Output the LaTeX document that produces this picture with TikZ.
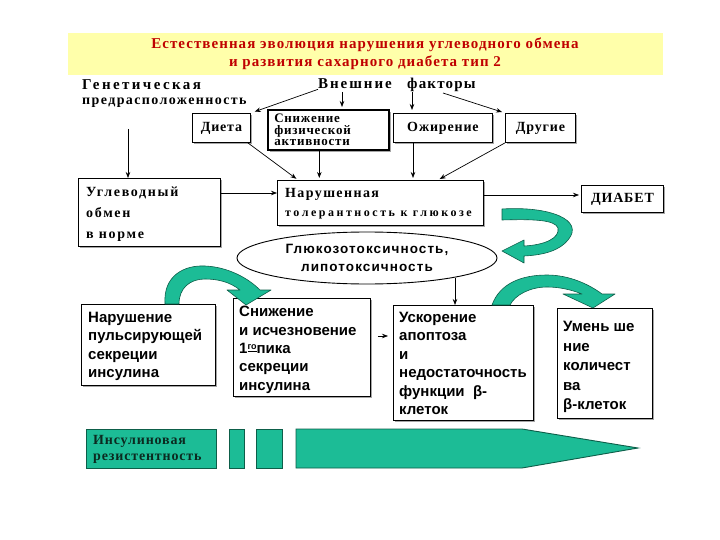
\documentclass[tikz,border=0pt]{standalone}
\usepackage{fontspec}
\setmainfont{Liberation Serif}
\setsansfont{Liberation Sans}
\usetikzlibrary{arrows.meta,shadows,shapes.geometric}
\definecolor{tgreen}{HTML}{1CBC96}
\definecolor{tgreendark}{HTML}{0D5E49}
\definecolor{tred}{HTML}{C00000}
\definecolor{tyellow}{HTML}{FFFFAA}
\definecolor{tinktext}{HTML}{0B2A20}
\begin{document}
\begin{tikzpicture}[x=1pt,y=-1pt,
  box/.style={draw=black, line width=0.9pt, fill=white, inner sep=0pt, anchor=north west},
  shbox/.style={box, drop shadow={shadow xshift=2pt, shadow yshift=-2pt, fill=black!35, opacity=1}},
  ttl/.style={font=\fontsize{15}{17}\selectfont\bfseries\addfontfeature{LetterSpace=7}, text=tred, inner sep=0pt},
  sr/.style={font=\fontsize{14}{16}\selectfont\bfseries\addfontfeature{LetterSpace=10}, inner sep=0pt},
  ss/.style={font=\sffamily\fontsize{15}{18.4}\selectfont\bfseries, inner sep=0pt, align=left, anchor=north west},
  arr/.style={-{Stealth[length=6pt,width=4.5pt]}, line width=0.7pt},
  garrow/.style={fill=tgreen, draw=tgreendark, line width=0.6pt, line join=round},
  gbar/.style={fill=tgreen, draw=tgreendark, line width=0.9pt, inner sep=0pt, anchor=north west}
]
\useasboundingbox (0,0) rectangle (720,540);
\fill[white] (0,0) rectangle (720,540);

% title band
\node[fill=tyellow, inner sep=0pt, anchor=north west, minimum width=595pt, minimum height=42pt] (band) at (68,33) {};
\node[ttl] (t1) at (365,45) {Естественная эволюция нарушения углеводного обмена};
\node[ttl] (t2) at (365,63) {и развития сахарного диабета тип 2};

% top texts
\node[sr, anchor=base west, font=\fontsize{15}{16}\selectfont\bfseries\addfontfeature{LetterSpace=16}] (gen1) at (82,90) {Генетическая};
\node[sr, anchor=base west] (gen2) at (82,105) {предрасположенность};
\node[sr, anchor=base west, font=\fontsize{15}{16}\selectfont\bfseries\addfontfeature{LetterSpace=13}] (vn) at (318,89) {Внешние};
\node[sr, anchor=base west, font=\fontsize{15}{16}\selectfont\bfseries\addfontfeature{LetterSpace=8}] (fa) at (407,89) {факторы};

% top boxes
\node[shbox, minimum width=58pt, minimum height=29pt, font=\fontsize{14}{16}\selectfont\bfseries\addfontfeature{LetterSpace=6}] (dieta) at (192,113) {Диета};
\node[shbox, line width=1.6pt, minimum width=121pt, minimum height=40pt, text width=108pt, align=left,
      font=\fontsize{13}{11.5}\selectfont\bfseries\addfontfeature{LetterSpace=6}] (snizh) at (267,109) {Снижение\\физической\\активности};
\node[shbox, minimum width=99pt, minimum height=29pt, font=\fontsize{14}{16}\selectfont\bfseries\addfontfeature{LetterSpace=6}] (ozh) at (393,113) {Ожирение};
\node[shbox, minimum width=70pt, minimum height=29pt, font=\fontsize{14}{16}\selectfont\bfseries\addfontfeature{LetterSpace=6}] (drug) at (505,113) {Другие};

% middle boxes
\node[shbox, minimum width=142pt, minimum height=68pt] (ugl) at (78,178) {};
\node[sr, font=\fontsize{14}{21}\selectfont\bfseries\addfontfeature{LetterSpace=12}, align=left, anchor=north west] (uglt) at (86,187) {Углеводный\\обмен\\в норме};
\node[shbox, minimum width=206pt, minimum height=45pt] (nar) at (277,180) {};
\node[sr, anchor=base west] (nar1) at (285,197) {Нарушенная};
\node[sr, anchor=base west, font=\fontsize{12}{14}\selectfont\bfseries\addfontfeature{LetterSpace=21}] (nar2) at (285,217) {толерантность к глюкозе};
\node[shbox, minimum width=82pt, minimum height=27pt, font=\fontsize{14}{16}\selectfont\bfseries\addfontfeature{LetterSpace=6}] (diab) at (581,185) {ДИАБЕТ};

% ellipse
\node[ellipse, draw=black, line width=0.9pt, fill=white, minimum width=260pt, minimum height=52pt, inner sep=0pt, align=center,
      font=\sffamily\fontsize{13.5}{18}\selectfont\bfseries\addfontfeature{LetterSpace=8}] (ell) at (367,258) {Глюкозотоксичность,\\липотоксичность};

% bottom boxes
\node[shbox, minimum width=134pt, minimum height=81pt] (b1) at (81,304) {};
\node[ss] (b1t) at (88,312) {Нарушение\\пульсирующей\\секреции\\инсулина};
\node[shbox, minimum width=137pt, minimum height=98pt] (b2) at (233,298) {};
\node[ss] (b2t) at (239,306) {Снижение\\и исчезновение\\1\raisebox{4pt}{\fontsize{9}{9}\selectfont\underline{го}}пика\\секреции\\инсулина};
\node[shbox, minimum width=140pt, minimum height=115pt] (b3) at (393,305) {};
\node[ss] (b3t) at (399,312) {Ускорение\\апоптоза\\и\\недостаточность\\функции\ \ β-\\клеток};
\node[shbox, minimum width=95pt, minimum height=110pt] (b4) at (557,308) {};
\node[ss, font=\sffamily\fontsize{15}{19.5}\selectfont\bfseries] (b4t) at (563,321) {Умень ше\\ние\\количест\\ва\\β-клеток};

% connectors top
\coordinate (a1) at (342,92);
\coordinate (a2) at (412,92);
\coordinate (a3) at (443,93);
\coordinate (g1) at (128,129);
\draw[arr, shorten >=4pt] (vn.south west) -- (dieta.north east);
\draw[arr, shorten >=2pt] (a1) -- (a1 |- snizh.north);
\draw[arr, shorten >=3pt] (a2) -- (a2 |- ozh.north);
\draw[arr, shorten >=3pt] (a3) -- (drug.north west);
\draw[arr] (g1) -- (g1 |- ugl.north);
\draw[arr, shorten >=2pt] ([xshift=-3pt]dieta.south east) -- ([xshift=21pt]nar.north west);
\draw[arr, shorten >=2pt] ([xshift=-9pt]snizh.south) -- ([xshift=-9pt]snizh.south |- nar.north);
\draw[arr, shorten >=2pt] ([xshift=20pt]ozh.south west) -- ([xshift=20pt]ozh.south west |- nar.north);
\draw[arr, shorten >=2pt] (drug.south west) -- ([xshift=-46pt]nar.north east);
\draw[arr] (ugl.east |- 0,193) -- (nar.west |- 0,193);
\draw[arr, shorten >=2pt] (nar.east |- 0,195) -- (diab.west |- 0,195);
\coordinate (e1) at (455,278);
\draw[arr] (e1) -- (e1 |- b3.north);
\draw[arr, shorten <=7pt, shorten >=5pt] (b2.east |- 0,336) -- (b3.west |- 0,336);

% green curved arrows
\draw[garrow] (502,209) .. controls (550,206) and (585,220) .. (568,240)
  .. controls (560,250) and (545,255) .. (524,256) -- (524,263) -- (502,251) -- (524,240) -- (524,246)
  .. controls (545,245) and (560,238) .. (558,228) .. controls (555,220) and (535,219) .. (502,220) -- cycle;
\draw[garrow] (165,304) .. controls (163,275) and (185,265) .. (205,266)
  .. controls (228,267) and (248,278) .. (260,290) -- (271,290) -- (246,305) -- (227,290) -- (240,290)
  .. controls (230,282) and (218,279) .. (205,279) .. controls (190,279) and (179,288) .. (179,304) -- cycle;
\draw[garrow] (492,305) .. controls (500,283) and (522,275) .. (547,275)
  .. controls (570,275) and (590,285) .. (602,294) -- (615,294) -- (593,308) -- (563,294) -- (582,294)
  .. controls (572,290) and (560,287) .. (547,287) .. controls (530,287) and (515,295) .. (510,305) -- cycle;

% bottom bar
\node[gbar, minimum width=130pt, minimum height=39pt] (ins) at (86,429) {};
\node[sr, align=left, anchor=north west, text=tinktext, font=\fontsize{14}{16}\selectfont\bfseries\addfontfeature{LetterSpace=6}] (inst) at (93,435) {Инсулиновая\\резистентность};
\node[gbar, minimum width=15pt, minimum height=39pt] (r1) at (229,429) {};
\node[gbar, minimum width=26pt, minimum height=39pt] (r2) at (256,429) {};
\draw[fill=tgreen, draw=tgreendark, line width=0.9pt] (296,429) -- (522,429) -- (638,448) -- (522,468) -- (296,468) -- cycle;
\end{tikzpicture}
\end{document}
